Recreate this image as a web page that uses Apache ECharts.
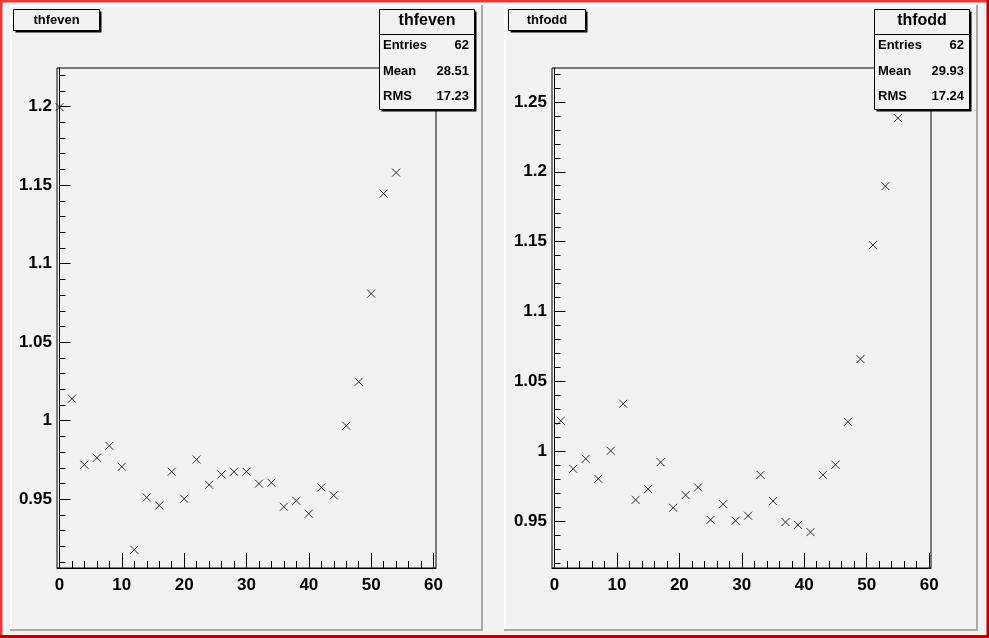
<!DOCTYPE html>
<html><head><meta charset="utf-8">
<script src="https://cdn.jsdelivr.net/npm/echarts@6/dist/echarts.min.js"></script>
<style>html,body{margin:0;padding:0;background:#f2f2f2;}#c{width:989px;height:638px;}</style>
</head><body><div id="c"></div>
<script>
// ---- data ----
const evenX = [0,2,4,6,8,10,12,14,16,18,20,22,24,26,28,30,32,34,36,38,40,42,44,46,48,50,52,54];
const evenY = [1.1997,1.014,0.972,0.9764,0.984,0.9707,0.9178,0.9511,0.946,0.9675,0.9503,0.9753,0.9592,0.9658,0.9675,0.9675,0.9599,0.9605,0.9452,0.949,0.9408,0.9575,0.9524,0.9968,1.0248,1.0809,1.1446,1.158];
const oddX = [1,3,5,7,9,11,13,15,17,19,21,23,25,27,29,31,33,35,37,39,41,43,45,47,49,51,53,55];
const oddY = [1.0217,0.9873,0.9945,0.9802,1.0002,1.0339,0.9651,0.9728,0.9921,0.9594,0.9685,0.974,0.9508,0.962,0.9501,0.9537,0.983,0.9642,0.9492,0.9472,0.942,0.983,0.9902,1.021,1.0659,1.1475,1.1897,1.2384];

const xMajorTicks = [0,10,20,30,40,50,60];
const xMinorTicks = [0,2,4,6,8,10,12,14,16,18,20,22,24,26,28,30,32,34,36,38,40,42,44,46,48,50,52,54,56,58,60];
const evenYMajor = [0.95,1,1.05,1.1,1.15,1.2];
const evenYMinor = [0.91,0.92,0.93,0.94,0.95,0.96,0.97,0.98,0.99,1,1.01,1.02,1.03,1.04,1.05,1.06,1.07,1.08,1.09,1.1,1.11,1.12,1.13,1.14,1.15,1.16,1.17,1.18,1.19,1.2,1.21,1.22];
const oddYMajor = [0.95,1,1.05,1.1,1.15,1.2,1.25];
const oddYMinor = [0.92,0.93,0.94,0.95,0.96,0.97,0.98,0.99,1,1.01,1.02,1.03,1.04,1.05,1.06,1.07,1.08,1.09,1.1,1.11,1.12,1.13,1.14,1.15,1.16,1.17,1.18,1.19,1.2,1.21,1.22,1.23,1.24,1.25,1.26,1.27];

const evenXRange = [-0.4, 60.4];
const evenYRange = [0.9062, 1.2246];
const oddXRange = [-0.4, 60.3];
const oddYRange = [0.9163, 1.2743];

const histNames = ['thfeven','thfodd'];
const statLabels = ['Entries','Mean','RMS'];
const evenStats = ['62','28.51','17.23'];
const oddStats = ['62','29.93','17.24'];

// ---- chart ----
const FONT = '"Liberation Sans", Arial, sans-serif';
const fmt = v => String(+(+v).toFixed(2));

function xAxes(gridIndex, range) {
  return [
    { type:'value', gridIndex, position:'bottom', min:range[0], max:range[1],
      axisLine:{show:true, lineStyle:{color:'#000', width:1}},
      axisTick:{show:true, inside:true, length:15, customValues:xMajorTicks, lineStyle:{color:'#000', width:1}},
      axisLabel:{show:true, customValues:xMajorTicks, formatter:fmt, margin:9, color:'#000', fontFamily:FONT, fontWeight:'bold', fontSize:17},
      splitLine:{show:false} },
    { type:'value', gridIndex, position:'bottom', offset:0, min:range[0], max:range[1],
      axisLine:{show:false},
      axisTick:{show:true, inside:true, length:7, customValues:xMinorTicks, lineStyle:{color:'#000', width:1}},
      axisLabel:{show:false}, splitLine:{show:false} }
  ];
}
function yAxes(gridIndex, range, major, minor) {
  return [
    { type:'value', gridIndex, position:'left', min:range[0], max:range[1],
      axisLine:{show:true, lineStyle:{color:'#000', width:1}},
      axisTick:{show:true, inside:true, length:11, customValues:major, lineStyle:{color:'#000', width:1}},
      axisLabel:{show:true, customValues:major, formatter:fmt, margin:5, color:'#000', fontFamily:FONT, fontWeight:'bold', fontSize:17},
      splitLine:{show:false} },
    { type:'value', gridIndex, position:'left', offset:0, min:range[0], max:range[1],
      axisLine:{show:false},
      axisTick:{show:true, inside:true, length:6, customValues:minor, lineStyle:{color:'#000', width:1}},
      axisLabel:{show:false}, splitLine:{show:false} }
  ];
}

function padGraphics(x0, x1, y0, y1) {
  return [
    {type:'rect', z:-10, shape:{x:x0, y:y0, width:x1-x0, height:y1-y0}, style:{fill:'#f2f2f2'}},
    {type:'rect', z:-9, shape:{x:x0, y:y0, width:x1-x0, height:2}, style:{fill:'#ffffff'}},
    {type:'rect', z:-9, shape:{x:x0, y:y0, width:2, height:y1-y0}, style:{fill:'#ffffff'}},
    {type:'rect', z:-9, shape:{x:x0, y:y1-2, width:x1-x0, height:2}, style:{fill:'#aaaaaa'}},
    {type:'rect', z:-9, shape:{x:x1-2, y:y0, width:2, height:y1-y0}, style:{fill:'#aaaaaa'}}
  ];
}
function boxWithShadow(x, y, w, h) {
  return [
    {type:'rect', z:100, shape:{x:x+2, y:y+2, width:w, height:h}, style:{fill:'#000'}},
    {type:'rect', z:101, shape:{x:x, y:y, width:w, height:h}, style:{fill:'#f2f2f2', stroke:'#000', lineWidth:1}}
  ];
}
function titleBox(x, w, name) {
  return boxWithShadow(x+0.5, 9.5, w, 21).concat([
    {type:'text', z:102, style:{x:x+0.5+w/2, y:20, text:name, align:'center', verticalAlign:'middle', fill:'#000', font:'bold 13px '+FONT}}
  ]);
}
function statsBox(x, name, vals) {
  const w = 95, h = 100;
  const g = boxWithShadow(x+0.5, 9.5, w, h);
  g.push({type:'text', z:102, style:{x:x+0.5+w/2, y:21, text:name, align:'center', verticalAlign:'middle', fill:'#000', font:'bold 16px '+FONT}});
  g.push({type:'line', z:102, shape:{x1:x+0.5, y1:34.5, x2:x+0.5+w, y2:34.5}, style:{stroke:'#000', lineWidth:1}});
  const ys = [45.5, 71, 96];
  statLabels.forEach((lab, i) => {
    g.push({type:'text', z:102, style:{x:x+4, y:ys[i], text:lab, align:'left', verticalAlign:'middle', fill:'#000', font:'bold 13px '+FONT}});
    g.push({type:'text', z:102, style:{x:x+w-5, y:ys[i], text:vals[i], align:'right', verticalAlign:'middle', fill:'#000', font:'bold 13px '+FONT}});
  });
  return g;
}

const cross = 'path://M0,0L10,10M10,0L0,10';
const graphics = []
  .concat(padGraphics(10, 483, 5, 631))
  .concat(padGraphics(504, 978, 5, 631))
  .concat([
    {type:'rect', z:-8, shape:{x:0, y:0, width:989, height:2.5}, style:{fill:'#ff3333'}},
    {type:'rect', z:-8, shape:{x:0, y:0, width:2.5, height:638}, style:{fill:'#ff3333'}},
    {type:'rect', z:-8, shape:{x:0, y:635, width:989, height:3}, style:{fill:'#b00000'}},
    {type:'rect', z:-8, shape:{x:986.5, y:0, width:2.5, height:638}, style:{fill:'#b00000'}}
  ])
  .concat(titleBox(13, 86, histNames[0]))
  .concat(titleBox(508, 77, histNames[1]))
  .concat(statsBox(379, histNames[0], evenStats))
  .concat(statsBox(874, histNames[1], oddStats));

const chart = echarts.init(document.getElementById('c'), null, {renderer:'canvas'});
chart.setOption({
  backgroundColor:'#f2f2f2',
  animation:false,
  grid:[
    {left:57, top:68, width:379, height:500, show:true, borderColor:'#000', borderWidth:1, backgroundColor:'transparent'},
    {left:552, top:68, width:379, height:500, show:true, borderColor:'#000', borderWidth:1, backgroundColor:'transparent'}
  ],
  xAxis: xAxes(0, evenXRange).concat(xAxes(1, oddXRange)),
  yAxis: yAxes(0, evenYRange, evenYMajor, evenYMinor).concat(yAxes(1, oddYRange, oddYMajor, oddYMinor)),
  series:[
    {type:'scatter', name:histNames[0], xAxisIndex:0, yAxisIndex:0, symbol:cross, symbolSize:8,
     itemStyle:{color:'none', borderColor:'#000', borderWidth:1}, data: evenX.map((x,i)=>[x, evenY[i]])},
    {type:'scatter', name:histNames[1], xAxisIndex:2, yAxisIndex:2, symbol:cross, symbolSize:8,
     itemStyle:{color:'none', borderColor:'#000', borderWidth:1}, data: oddX.map((x,i)=>[x, oddY[i]])}
  ],
  graphic: graphics
});
</script>
</body></html>
